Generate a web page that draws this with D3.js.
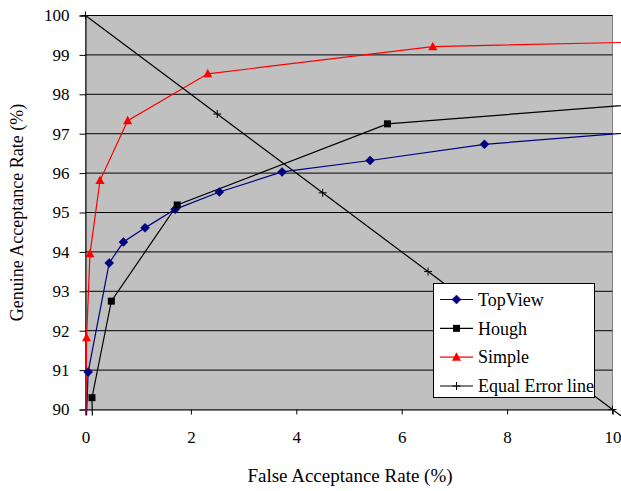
<!DOCTYPE html>
<html>
<head>
<meta charset="utf-8">
<script src="https://cdn.jsdelivr.net/npm/d3@7"></script>
<style>
  html, body { margin: 0; padding: 0; background: #fff; font-family: "Liberation Serif", "Times New Roman", serif; }
  svg { display: block; }
  svg#plot text { font-family: "Liberation Serif", "Times New Roman", serif; }
</style>
</head>
<body>
<svg id="plot" width="621" height="491"></svg>
<script>
// ---- Data ----
const xTicks = [0, 2, 4, 6, 8, 10];
const yTicks = [90, 91, 92, 93, 94, 95, 96, 97, 98, 99, 100];

const topViewFAR = [0.02, 0.05, 0.45, 0.72, 1.13, 1.70, 2.54, 3.73, 5.40, 7.57, 11];
const topViewGAR = [89.85, 90.95, 93.72, 94.25, 94.61, 95.08, 95.52, 96.03, 96.32, 96.73, 97.10];

const houghFAR = [0.13, 0.123, 0.49, 1.74, 5.73, 11];
const houghGAR = [89.85, 90.30, 92.75, 95.19, 97.25, 97.80];

const simpleFAR = [0.005, 0.02, 0.085, 0.275, 0.80, 2.32, 6.59, 11];
const simpleGAR = [89.85, 91.82, 93.95, 95.81, 97.33, 98.52, 99.21, 99.34];

const eerFAR = [0, 2.5, 4.5, 6.5, 10, 10.3];
const eerGAR = [100, 97.5, 95.5, 93.5, 90, 89.7];

const seriesNames = ["TopView", "Hough", "Simple", "Equal Error line"];

// ---- Layout ----
const FONT = "'Liberation Serif', 'Times New Roman', serif";
const svg = d3.select("#plot");
const x = d3.scaleLinear().domain([0, 10]).range([85.5, 612.5]);
const y = d3.scaleLinear().domain([90, 100]).range([409.5, 15.5]);

const series = [
  { name: seriesNames[0], xs: topViewFAR, ys: topViewGAR, color: "#000080", marker: "diamond" },
  { name: seriesNames[1], xs: houghFAR, ys: houghGAR, color: "#000000", marker: "square" },
  { name: seriesNames[2], xs: simpleFAR, ys: simpleGAR, color: "#ff0000", marker: "triangle" },
  { name: seriesNames[3], xs: eerFAR, ys: eerGAR, color: "#000000", marker: "cross" }
];

// Plot background
svg.append("rect")
  .attr("x", x(0)).attr("y", y(100))
  .attr("width", x(10) - x(0)).attr("height", y(90) - y(100))
  .attr("fill", "#c0c0c0").attr("stroke", "#808080").attr("stroke-width", 1);

// Gridlines
svg.append("g").selectAll("line").data(yTicks.filter(t => t > 90)).join("line")
  .attr("x1", x(0)).attr("x2", x(10))
  .attr("y1", d => y(d)).attr("y2", d => y(d))
  .attr("stroke", "#000").attr("stroke-width", 1);

// Axes
const xAxis = d3.axisBottom(x).tickValues(xTicks).tickSize(5).tickPadding(16).tickFormat(d3.format("d"));
const gx = svg.append("g").attr("transform", `translate(0,${y(90)})`).call(xAxis);
const yAxis = d3.axisLeft(y).tickValues(yTicks).tickSize(6).tickPadding(10).tickFormat(d3.format("d"));
const gy = svg.append("g").attr("transform", `translate(${x(0)},0)`).call(yAxis);
[gx, gy].forEach(g => {
  g.attr("font-family", null).attr("font-size", null);
  g.select(".domain").attr("stroke", "#000");
  g.selectAll(".tick line").attr("stroke", "#000");
  g.selectAll(".tick text").style("font-family", FONT).style("font-size", "17px").attr("fill", "#000");
});

// Axis titles
svg.append("text")
  .attr("x", (x(0) + x(10)) / 2 + 1).attr("y", 482)
  .attr("text-anchor", "middle").style("font-family", FONT).style("font-size", "19px")
  .text("False Acceptance Rate (%)");
svg.append("text")
  .attr("transform", `translate(23,${(y(90) + y(100)) / 2}) rotate(-90)`)
  .attr("text-anchor", "middle").style("font-family", FONT).style("font-size", "18px")
  .text("Genuine Acceptance Rate (%)");

// Clip region (chart area)
svg.append("defs").append("clipPath").attr("id", "clip")
  .append("rect").attr("x", 0).attr("y", 0).attr("width", 621).attr("height", 416);

const line = d3.line().x(d => x(d[0])).y(d => y(d[1]));

function drawMarker(g, type, cx, cy, color) {
  if (type === "diamond") {
    g.append("path").attr("d", `M${cx},${cy - 4.5}L${cx + 4.5},${cy}L${cx},${cy + 4.5}L${cx - 4.5},${cy}Z`)
      .attr("fill", color).attr("stroke", color).attr("stroke-width", 0.5);
  } else if (type === "square") {
    g.append("rect").attr("x", cx - 3.5).attr("y", cy - 3.5).attr("width", 7).attr("height", 7)
      .attr("fill", color);
  } else if (type === "triangle") {
    g.append("path").attr("d", `M${cx},${cy - 5}L${cx + 4.5},${cy + 3.5}L${cx - 4.5},${cy + 3.5}Z`)
      .attr("fill", color);
  } else if (type === "cross") {
    g.append("path").attr("d", `M${cx - 4},${cy}H${cx + 4}M${cx},${cy - 4}V${cy + 4}`)
      .attr("stroke", color).attr("stroke-width", 1).attr("fill", "none");
  }
}

const plotG = svg.append("g").attr("clip-path", "url(#clip)");
series.forEach(s => {
  const pts = s.xs.map((v, i) => [v, s.ys[i]]);
  plotG.append("path").datum(pts).attr("d", line)
    .attr("fill", "none").attr("stroke", s.color).attr("stroke-width", 1.2);
});
series.forEach(s => {
  const pts = s.xs.map((v, i) => [v, s.ys[i]]).filter(p => p[0] >= 0 && p[0] <= 10 && p[1] >= 90 && p[1] <= 100);
  const g = plotG.append("g");
  pts.forEach(p => drawMarker(g, s.marker, x(p[0]), y(p[1]), s.color));
});

// Legend
const lg = svg.append("g");
lg.append("rect").attr("x", 433.5).attr("y", 283.5).attr("width", 161).attr("height", 114)
  .attr("fill", "#fff").attr("stroke", "#000").attr("stroke-width", 1);
const rowY = d3.scaleLinear().domain([0, 3]).range([299.5, 386]);
series.forEach((s, i) => {
  const yy = rowY(i);
  lg.append("line").attr("x1", 440).attr("x2", 473).attr("y1", yy).attr("y2", yy)
    .attr("stroke", s.color).attr("stroke-width", 1.2);
  drawMarker(lg, s.marker, 456.5, yy, s.color);
  lg.append("text").attr("x", 478).attr("y", yy).attr("dy", "0.35em")
    .style("font-family", FONT).style("font-size", "18px").text(s.name);
});
</script>
</body>
</html>
